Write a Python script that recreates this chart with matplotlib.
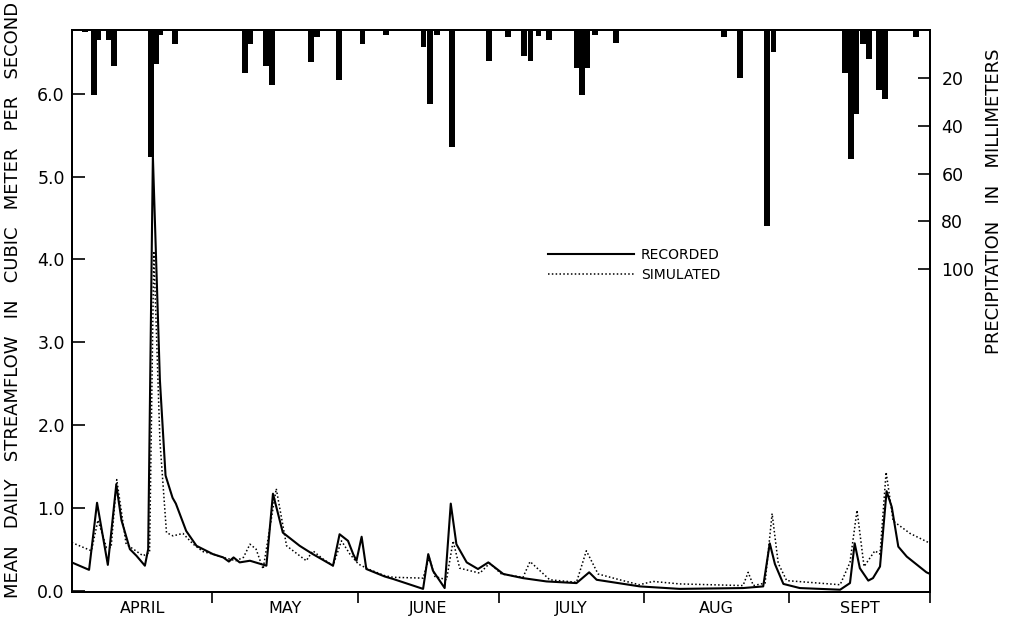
import matplotlib
matplotlib.use('Agg')
import matplotlib.pyplot as plt
import numpy as np

plt.rcParams['font.family'] = ['DejaVu Sans']

# days counted from April 1
months = ["APRIL", "MAY", "JUNE", "JULY", "AUG", "SEPT"]
month_len = [30, 31, 30, 31, 31, 30]

# recorded streamflow (m3/s), vertices
rec_day = [0, 3.7, 5.4, 7.7, 9.5, 10.6, 12.4, 13.8, 15.6, 16.3, 17.3, 18.8, 20.0, 21.5,
           22.2, 24.4, 26.6, 30.1, 32.3, 33.5, 34.5, 35.8, 38, 41.5, 42.9, 45, 48.6,
           51.4, 55.7, 57.1, 58.9, 60.0, 60.7, 61.8, 62.8, 66.7, 68.5, 74.9, 76.0,
           77.0, 79.5, 80.8, 82.0, 84.2, 86.6, 88.8, 92.0, 96.2, 101.2, 107.6, 110.3,
           111.9, 121.1, 129.6, 143.1, 147.4, 148.8, 149.9, 151.7, 155.2, 163.8,
           165.9, 166.9, 168.0, 169.8, 170.8, 172.3, 173.7, 174.8, 176.2, 178.0,
           182.2, 183]
rec_flow = [0.34, 0.25, 1.06, 0.31, 1.28, 0.85, 0.50, 0.42, 0.30, 0.5, 5.25, 2.54, 1.39,
            1.12, 1.05, 0.72, 0.54, 0.44, 0.40, 0.35, 0.40, 0.34, 0.36, 0.30, 1.17, 0.70,
            0.54, 0.44, 0.30, 0.68, 0.60, 0.44, 0.36, 0.65, 0.26, 0.17, 0.14, 0.02,
            0.44, 0.24, 0.03, 1.05, 0.56, 0.34, 0.26, 0.34, 0.20, 0.15, 0.11, 0.09,
            0.22, 0.13, 0.05, 0.02, 0.03, 0.05, 0.57, 0.32, 0.08, 0.03, 0.01, 0.09,
            0.57, 0.27, 0.12, 0.15, 0.29, 1.20, 1.01, 0.53, 0.41, 0.22, 0.20]

# simulated streamflow (m3/s)
sim_day = [0, 4.2, 5.6, 7.4, 8.4, 9.6, 11.6, 15.2, 16.6, 17.5, 18.8, 20.2, 21.6, 23.7,
           25.9, 28, 30.1, 32.3, 35, 36.6, 38, 39.3, 40.8, 43.6, 45.8, 50, 51.4, 53.6,
           55.7, 57.5, 59.3, 61.1, 63.2, 66.7, 68.5, 74.9, 76.2, 77.4, 79.9, 81.3,
           82.7, 87, 89.1, 91.6, 96.2, 97.7, 101.9, 107.6, 109.7, 112.2, 116.8, 121,
           123.9, 129.6, 143.1, 144.2, 145.3, 147.8, 149.3, 150.6, 152.4, 163.8,
           165.9, 167.4, 168.9, 171.2, 172.3, 173.6, 175.1, 178.7, 183]
sim_flow = [0.58, 0.48, 0.85, 0.52, 0.52, 1.34, 0.56, 0.42, 0.46, 4.1, 1.81, 0.70, 0.66,
            0.69, 0.56, 0.47, 0.44, 0.40, 0.36, 0.40, 0.56, 0.50, 0.26, 1.23, 0.54,
            0.36, 0.48, 0.38, 0.30, 0.60, 0.44, 0.32, 0.26, 0.18, 0.16, 0.15, 0.40,
            0.17, 0.13, 0.60, 0.27, 0.21, 0.33, 0.20, 0.16, 0.35, 0.13, 0.10, 0.48,
            0.20, 0.13, 0.07, 0.11, 0.08, 0.06, 0.22, 0.06, 0.09, 0.93, 0.33, 0.12,
            0.07, 0.34, 0.97, 0.29, 0.48, 0.44, 1.43, 0.84, 0.69, 0.57]

# daily precipitation (mm)
rain_day = [2.8, 4.8, 5.7, 8, 9, 16.9, 18, 18.8, 22, 37, 38.1, 41.5, 42.7, 51, 52.3, 57,
            62, 67, 75, 76.3, 77.8, 81, 89, 93, 96.5, 97.8, 99.5, 101.8, 107.8, 108.8,
            109.9, 111.5, 116, 139, 142.5, 148.2, 149.6, 164.9, 166.1, 167.3, 168.7,
            170, 172, 173.4, 180]
rain_mm = [1, 27, 4, 4, 15, 53, 14, 2, 6, 18, 6, 15, 23, 13.5, 3, 21, 6, 2, 7, 31, 2, 49,
           13, 3, 11, 13, 2.5, 4, 16, 27, 16, 2, 5.5, 3, 20, 82, 9, 18, 54, 35, 6, 12,
           25, 29, 3]

fig = plt.figure(figsize=(10.1, 6.26), dpi=100)
ax = fig.add_axes([0.071, 0.054, 0.850, 0.898])

ax.plot(rec_day, rec_flow, color='black', lw=1.5, label='RECORDED')
ax.plot(sim_day, sim_flow, color='black', lw=1.1, linestyle=(0, (1, 1.5)), label='SIMULATED')

ax.set_xlim(0, 183)
ax.set_ylim(-0.02, 6.77)
ax.set_yticks(np.arange(0, 7, 1.0))
ax.set_yticklabels([f"{v:.1f}" for v in np.arange(0, 7, 1.0)], fontsize=12.5)
ax.tick_params(axis='y', direction='in', length=9, width=1.2, pad=5)

bounds = np.cumsum([0] + month_len)
centers = (bounds[:-1] + bounds[1:]) / 2
ax.set_xticks(bounds[1:])
ax.set_xticklabels([])
ax.set_xticks(centers, minor=True)
ax.set_xticklabels(months, minor=True, fontsize=11.5)
ax.tick_params(axis='x', which='major', direction='out', length=8, width=1.2)
ax.tick_params(axis='x', which='minor', length=0, pad=6)

for s in ax.spines.values():
    s.set_linewidth(1.4)

ax.set_ylabel("MEAN   DAILY   STREAMFLOW   IN   CUBIC   METER   PER   SECOND", fontsize=13)
ax.yaxis.set_label_coords(-0.058, 0.52)

ax2 = ax.twinx()
ax2.bar(rain_day, rain_mm, width=1.25, color='black')
ax2.set_ylim(235, 0)
ax2.set_yticks([20, 40, 60, 80, 100])
ax2.tick_params(axis='y', direction='in', length=9, width=1.2, pad=8, labelsize=12.5)
ax2.set_ylabel("PRECIPITATION   IN   MILLIMETERS", fontsize=13)
ax2.yaxis.set_label_coords(1.064, 0.695)
for s in ax2.spines.values():
    s.set_linewidth(1.4)

leg = ax.legend(loc='upper left', bbox_to_anchor=(0.54, 0.635), frameon=False,
                fontsize=10, handlelength=6.2, handletextpad=0.5, labelspacing=0.45)

fig.savefig("out.png", dpi=100)
